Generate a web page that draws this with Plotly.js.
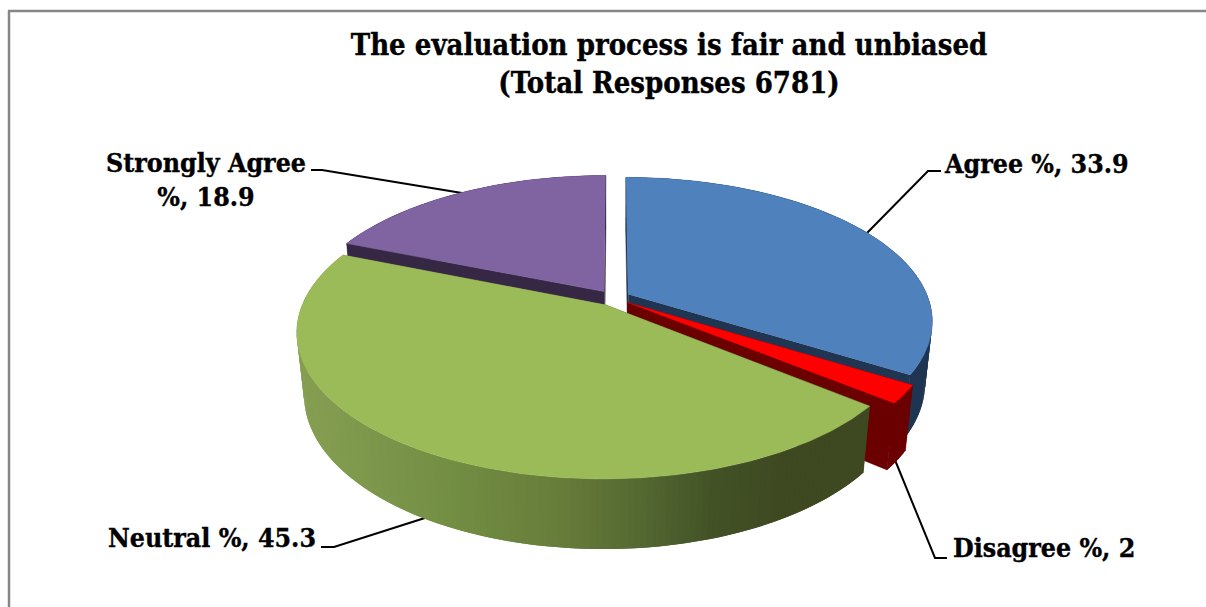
<!DOCTYPE html>
<html>
<head>
<meta charset="utf-8">
<script src="https://cdn.plot.ly/plotly-3.0.1.min.js"></script>
<style>html,body{margin:0;padding:0;background:#fff;overflow:hidden}#chart{width:1206px;height:607px}
.annotation-text,.gtitle{stroke:#000;stroke-width:.35px}</style>
</head>
<body>
<div id="chart"></div>
<script>
// ---- data ----
const titleLines = ["The evaluation process is fair and unbiased", "(Total Responses 6781)"];
const categories = ["Agree", "Disagree", "Neutral", "Strongly Agree"];
const percentages = [33.9, 2, 45.3, 18.9];

// ---- styles ----
const topColors = ["#4F81BD", "#FF0000", "#9BBB59", "#8064A2"];
const wallStops = [
  [[300, [31, 53, 82]], [1206, [31, 53, 82]]],
  [[300, [107, 0, 0]], [1206, [107, 0, 0]]],
  [[300, [133, 158, 82]], [443, [115, 143, 68]], [558, [103, 124, 58]], [634, [85, 105, 50]], [711, [66, 82, 38]], [787, [62, 72, 33]]],
  [[300, [54, 40, 69]], [1206, [54, 40, 69]]]
];
const drawOrder = [3, 0, 1, 2];
const labelLayout = [
  {x: 942, y: 163, anchor: "left", text: c => `${c} %, `},
  {x: 951, y: 547, anchor: "left", text: c => `${c} %, `},
  {x: 318, y: 537, anchor: "right", text: c => `${c} %, `},
  {x: 206, y: 179, anchor: "center", text: c => `${c}<br>%, `}
];
const leaderX = [[867, 928, 941], [895, 935, 947], [321, 334, 428], [311, 322, 462]];
const leaderY = [[233, 171, 171], [460, 558, 558], [547, 547, 517], [170, 170, 193]];
const FONT = "DejaVu Serif Condensed, DejaVu Serif";

// ---- 3D camera used to place the pie on the pixel-scaled axes ----
const cx = 613.6, cy = 298, F = 1452, D = 4.84, sinA = 0.465, cosA = 0.885;
const H = 0.235, EXPLODE = 0.056;
function project(X, Y, Z) {
  const d = D - Y * cosA - Z * sinA;
  return [cx + F * X / d, cy + F * (Y * sinA - Z * cosA) / d];
}
function colorAt(stops, x) {
  if (x <= stops[0][0]) return stops[0][1];
  for (let i = 1; i < stops.length; i++) {
    if (x <= stops[i][0]) {
      const t = (x - stops[i - 1][0]) / (stops[i][0] - stops[i - 1][0]);
      return stops[i - 1][1].map((v, k) => v + (stops[i][1][k] - v) * t);
    }
  }
  return stops[stops.length - 1][1];
}
const rgb = c => `rgb(${c.map(Math.round).join(",")})`;
function poly(pts, color, name, w) {
  return {
    type: "scatter", mode: "lines", fill: "toself", fillcolor: color, name: name,
    x: pts.map(p => p[0]), y: pts.map(p => p[1]),
    line: {color: color, width: w}, hoverinfo: "name", showlegend: false
  };
}

// ---- slices from the values ----
const total = percentages.reduce((a, b) => a + b, 0);
const traces = [];
let acc = 0;
const slices = percentages.map((v, i) => {
  const a0 = acc / total * 2 * Math.PI;
  acc += v;
  const a1 = acc / total * 2 * Math.PI;
  return {i, a0, a1};
});

// leader lines sit under the pie
categories.forEach((c, i) => traces.push({
  type: "scatter", mode: "lines", x: leaderX[i], y: leaderY[i],
  line: {color: "#000", width: 2}, hoverinfo: "skip", showlegend: false
}));

drawOrder.forEach(idx => {
  const s = slices[idx], mid = (s.a0 + s.a1) / 2;
  const ox = EXPLODE * Math.sin(mid), oy = -EXPLODE * Math.cos(mid);
  const pt = (a, r, z) => project(ox + r * Math.sin(a), oy - r * Math.cos(a), z);
  const name = categories[idx];
  const stops = wallStops[idx];
  // flat cut walls
  [s.a0, s.a1].forEach(a => {
    const q = [pt(a, 0, 0), pt(a, 1, 0), pt(a, 1, -H), pt(a, 0, -H)];
    traces.push(poly(q, rgb(colorAt(stops, q[1][0])), name, 0.5));
  });
  // curved rim, in short overlapping strips so the shading can vary along it
  const n = Math.max(2, Math.ceil((s.a1 - s.a0) / (1 * Math.PI / 180)));
  const stepA = (s.a1 - s.a0) / n;
  for (let k = 0; k < n; k++) {
    const b0 = s.a0 + stepA * k, b1 = Math.min(s.a1, b0 + 2 * stepA);
    const q = [pt(b0, 1, 0), pt(b1, 1, 0), pt(b1, 1, -H), pt(b0, 1, -H)];
    traces.push(poly(q, rgb(colorAt(stops, (q[0][0] + q[1][0]) / 2)), name, 0));
  }
  // top face
  const top = [pt(s.a0, 0, 0)];
  const m = Math.max(4, Math.ceil((s.a1 - s.a0) / (Math.PI / 180)));
  for (let k = 0; k <= m; k++) top.push(pt(s.a0 + (s.a1 - s.a0) * k / m, 1, 0));
  traces.push(poly(top, topColors[idx], name, 0.5));
});

const annotations = categories.map((c, i) => ({
  xref: "x", yref: "y", x: labelLayout[i].x, y: labelLayout[i].y,
  xanchor: labelLayout[i].anchor, yanchor: "middle", align: "center", showarrow: false,
  text: `<b>${labelLayout[i].text(c)}${percentages[i]}</b>`,
  font: {family: FONT, size: 26.5, color: "#000"}
}));

const layout = {
  width: 1206, height: 607,
  margin: {l: 0, r: 0, t: 0, b: 0},
  paper_bgcolor: "#fff", plot_bgcolor: "#fff",
  showlegend: false,
  title: {
    text: `<b>${titleLines.join("<br>")}</b>`,
    x: 669 / 1206, xanchor: "center", y: 1 - 55 / 607, yanchor: "middle",
    font: {family: FONT, size: 29, color: "#000"}
  },
  xaxis: {range: [0, 1206], visible: false, fixedrange: true},
  yaxis: {range: [607, 0], visible: false, fixedrange: true},
  annotations: annotations,
  shapes: [
    {type: "line", xref: "x", yref: "y", x0: 9, x1: 9, y0: 11, y1: 607, line: {color: "#868686", width: 2.5}},
    {type: "line", xref: "x", yref: "y", x0: 8, x1: 1206, y0: 11, y1: 11, line: {color: "#868686", width: 2.5}}
  ]
};
Plotly.newPlot("chart", traces, layout, {displayModeBar: false, staticPlot: true});
</script>
</body>
</html>
